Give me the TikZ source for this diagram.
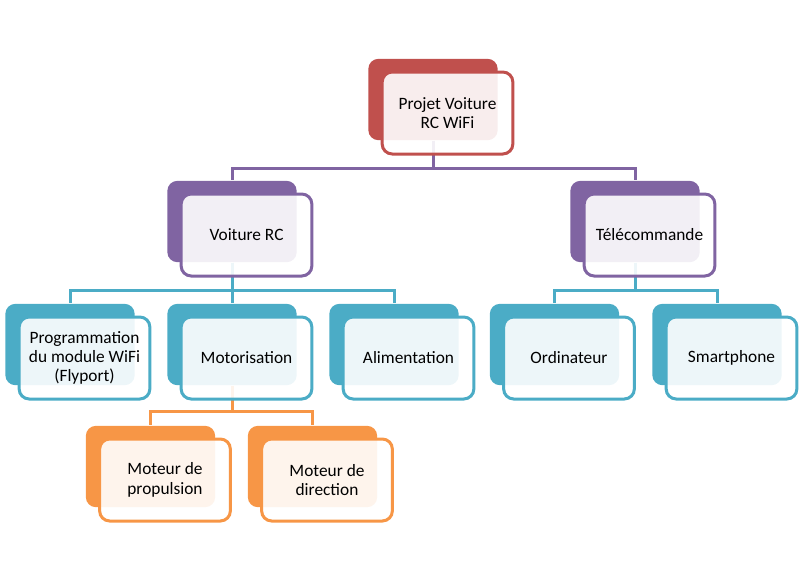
\documentclass[tikz,border=0pt]{standalone}
\usepackage{fontspec}
\setmainfont{Carlito}
\usetikzlibrary{calc}

\definecolor{accred}{RGB}{192,80,77}
\definecolor{accpurple}{RGB}{128,100,162}
\definecolor{accblue}{RGB}{75,172,198}
\definecolor{accorange}{RGB}{247,150,70}

\tikzset{every picture/.style={line width=0.75pt}}
\tikzset{
  backbox/.style={fill=#1, rounded corners=7.5pt, minimum width=97pt, minimum height=61pt, inner sep=0pt},
  frontbox/.style={draw=#1, line width=2.25pt, fill=white, fill opacity=0.9, text opacity=1, rounded corners=7.5pt, minimum width=98pt, minimum height=61.5pt, inner sep=0pt, align=center, font=\fontsize{13}{14.5}\selectfont},
  link/.style={draw=#1, line width=2.25pt}
}

\begin{document}
\begin{tikzpicture}[x=0.75pt,y=0.75pt,yscale=-1,xscale=1]
\useasboundingbox (0,0) rectangle (801,579);

%Shape: back boxes
\node[backbox=accred] (rootb) at (433,99.5) {};
\node[backbox=accpurple] (rcb) at (232,221.5) {};
\node[backbox=accpurple] (telb) at (635,221.5) {};
\node[backbox=accblue] (progb) at (70,344.5) {};
\node[backbox=accblue] (motob) at (232,344.5) {};
\node[backbox=accblue] (alimb) at (394,344.5) {};
\node[backbox=accblue] (ordib) at (554.5,344.5) {};
\node[backbox=accblue] (smartb) at (717,344.5) {};
\node[backbox=accorange] (propb) at (150.5,466.5) {};
\node[backbox=accorange] (dirb) at (312.5,466.5) {};

%Straight Lines: links
\draw[link=accpurple] (rootb.south) -- ++(0,28) -| (rcb.north);
\draw[link=accpurple] (rootb.south) -- ++(0,28) -| (telb.north);
\draw[link=accblue] (rcb.south) -- ++(0,28) -| (progb.north);
\draw[link=accblue] (rcb.south) -- ++(0,28) -| (motob.north);
\draw[link=accblue] (rcb.south) -- ++(0,28) -| (alimb.north);
\draw[link=accblue] (telb.south) -- ++(0,28) -| (ordib.north);
\draw[link=accblue] (telb.south) -- ++(0,28) -| (smartb.north);
\draw[link=accorange] (motob.south) -- ++(0,26) -| (propb.north);
\draw[link=accorange] (motob.south) -- ++(0,26) -| (dirb.north);

%Shape: front boxes
\node[frontbox=accred] (root) at ([shift={(14.5,13.5)}]rootb.center) {Projet Voiture\\RC WiFi};
\node[frontbox=accpurple] (rc) at ([shift={(14.5,13.5)}]rcb.center) {Voiture RC};
\node[frontbox=accpurple] (tel) at ([shift={(14.5,13.5)}]telb.center) {Télécommande};
\node[frontbox=accblue] (prog) at ([shift={(14.5,13.5)}]progb.center) {Programmation\\du module WiFi\\(Flyport)};
\node[frontbox=accblue] (moto) at ([shift={(14.5,13.5)}]motob.center) {Motorisation};
\node[frontbox=accblue] (alim) at ([shift={(14.5,13.5)}]alimb.center) {Alimentation};
\node[frontbox=accblue] (ordi) at ([shift={(14.5,13.5)}]ordib.center) {Ordinateur};
\node[frontbox=accblue] (smart) at ([shift={(14.5,13.5)}]smartb.center) {Smartphone};
\node[frontbox=accorange] (prop) at ([shift={(14.5,13.5)}]propb.center) {Moteur de\\propulsion};
\node[frontbox=accorange] (dir) at ([shift={(14.5,13.5)}]dirb.center) {Moteur de\\direction};

\end{tikzpicture}
\end{document}
